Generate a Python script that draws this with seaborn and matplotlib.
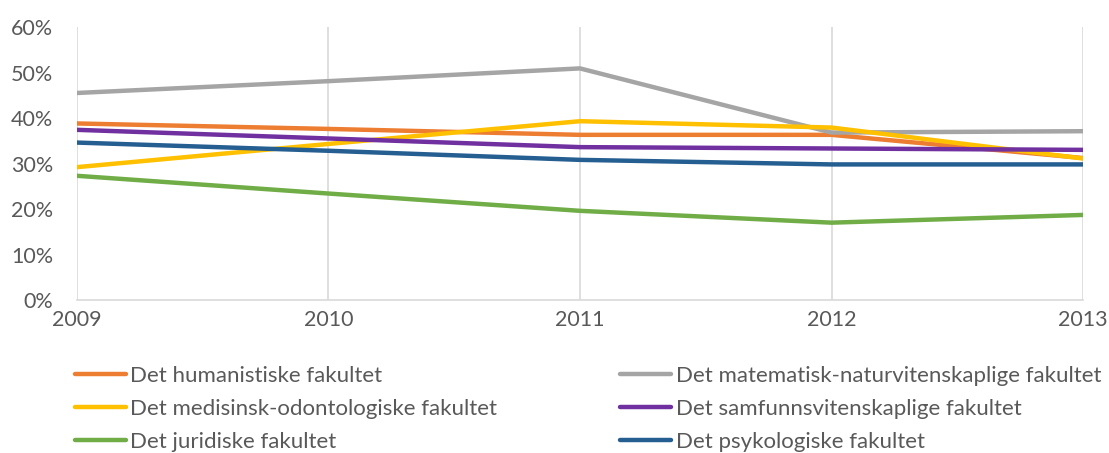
import matplotlib
matplotlib.use("Agg")
import matplotlib.pyplot as plt
import seaborn as sns
import pandas as pd
from matplotlib.ticker import PercentFormatter

years = [2009, 2010, 2011, 2012, 2013]
faculties = [
    "Det humanistiske fakultet",
    "Det matematisk-naturvitenskaplige fakultet",
    "Det medisinsk-odontologiske fakultet",
    "Det samfunnsvitenskaplige fakultet",
    "Det juridiske fakultet",
    "Det psykologiske fakultet",
]
hum = [38.8, 37.6, 36.3, 36.3, 31.2]
mat = [45.5, 48.1, 50.9, 36.8, 37.1]
med = [29.2, 34.3, 39.3, 37.9, 31.1]
sam = [37.4, 35.5, 33.6, 33.3, 33.0]
jur = [27.3, 23.4, 19.6, 17.0, 18.7]
psy = [34.6, 32.8, 30.8, 29.8, 29.8]
colors = ["#ED7D31", "#A5A5A5", "#FFC000", "#7030A0", "#70AD47", "#255E91"]

series = [hum, mat, med, sam, jur, psy]
rows = []
for name, vals in zip(faculties, series):
    for y, v in zip(years, vals):
        rows.append({"Year": y, "Value": v, "Faculty": name})
df = pd.DataFrame(rows)

sns.set_theme(style="white")
plt.rcParams['font.family'] = ['Lato', 'DejaVu Sans']

fig = plt.figure(figsize=(11.09, 4.53), dpi=100)
ax = fig.add_axes([0.0694, 0.3377, 0.9072, 0.6027])

sns.lineplot(data=df, x="Year", y="Value", hue="Faculty", hue_order=faculties,
             palette=colors, linewidth=3.2, ax=ax, legend=False, zorder=3)

ax.set_xlim(2009, 2013)
ax.set_ylim(0, 60)
ax.set_xticks(years)
ax.set_xticklabels([str(y) for y in years])
ax.set_yticks(range(0, 61, 10))
ax.yaxis.set_major_formatter(PercentFormatter(decimals=0))
ax.set_xlabel("")
ax.set_ylabel("")
ax.grid(axis="x", color="#D9D9D9", linewidth=1.2)
ax.grid(axis="y", visible=False)
for s in ["top", "right", "left"]:
    ax.spines[s].set_visible(False)
ax.spines["bottom"].set_color("#D9D9D9")
ax.spines["bottom"].set_linewidth(1.2)
ax.tick_params(axis="both", length=0, labelsize=15.5, colors="#595959")
ax.tick_params(axis="x", pad=7)
ax.tick_params(axis="y", pad=17)

order = [0, 2, 4, 1, 3, 5]
leg = fig.legend([plt.Line2D([], [], color=colors[i], linewidth=3.2) for i in order],
                 [faculties[i] for i in order],
                 ncol=2, loc="upper left", bbox_to_anchor=(0.0595, 0.212),
                 frameon=False, fontsize=16, handlelength=2.3, handletextpad=0.2,
                 columnspacing=5.53, labelspacing=0.58, borderaxespad=0)
for t in leg.get_texts():
    t.set_color("#595959")

fig.savefig("out.png", dpi=100)
